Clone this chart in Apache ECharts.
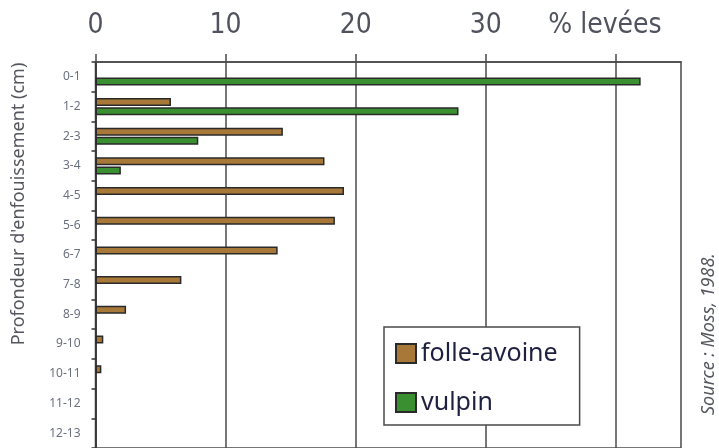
<!DOCTYPE html>
<html>
<head>
<meta charset="utf-8">
<script src="https://cdn.jsdelivr.net/npm/echarts@6/dist/echarts.min.js"></script>
<style>
  html, body { margin: 0; padding: 0; background: #fff; }
  #chart { width: 719px; height: 448px; }
</style>
</head>
<body>
<div id="chart"></div>
<script>
// profondeur d'enfouissement (cm)
const depths = ['0-1', '1-2', '2-3', '3-4', '4-5', '5-6', '6-7', '7-8', '8-9', '9-10', '10-11', '11-12', '12-13']
// % levées
const folleAvoine = [null, 5.8, 14.4, 17.6, 19.1, 18.4, 14.0, 6.6, 2.35, 0.6, 0.45, null, null]
const vulpin = [41.9, 27.9, 7.9, 1.95, null, null, null, null, null, null, null, null, null]
const xTicks = [0, 10, 20, 30, 40]

let myChart = echarts.init(document.getElementById('chart'))
let options = {
  animation: false,
  grid: {
    left: 95.5,
    top: 62,
    width: 585.5,
    height: 390,
    show: true,
    borderColor: '#4a4a4a',
    borderWidth: 1.5
  },
  xAxis: {
    type: 'value',
    position: 'top',
    min: 0,
    max: 45,
    interval: 10,
    axisLine: { show: true, lineStyle: { color: '#4a4a4a', width: 1.5 } },
    axisTick: {
      show: true,
      length: 8,
      customValues: xTicks,
      lineStyle: { color: '#4a4a4a', width: 1.5 }
    },
    axisLabel: {
      customValues: xTicks,
      margin: 22,
      fontFamily: "'Liberation Sans Narrow', 'DejaVu Sans Condensed', 'Open Sans', sans-serif",
      fontSize: 28,
      color: '#50535e',
      formatter: v => (v === 40 ? '{u|% levées}' : String(v)),
      rich: {
        u: {
          fontFamily: "'Liberation Sans Narrow', 'DejaVu Sans Condensed', 'Open Sans', sans-serif",
          fontSize: 28,
          color: '#50535e',
          padding: [0, 22, 0, 0]
        }
      }
    },
    splitLine: { show: true, lineStyle: { color: '#4a4a4a', width: 1.5 } }
  },
  yAxis: {
    type: 'category',
    inverse: true,
    data: depths,
    axisLine: { show: true, lineStyle: { color: '#333', width: 1.5 } },
    axisTick: { show: true, length: 4, lineStyle: { color: '#333', width: 1.5 } },
    axisLabel: {
      margin: 15,
      fontFamily: 'Noto Sans',
      fontSize: 12,
      color: '#6b7080'
    }
  },
  legend: {
    left: 384,
    top: 327,
    orient: 'vertical',
    itemWidth: 20,
    itemHeight: 19,
    itemGap: 24,
    padding: [14, 22, 10, 11],
    backgroundColor: '#fff',
    borderColor: '#4a4a4a',
    borderWidth: 1.5,
    borderRadius: 0,
    icon: 'rect',
    textStyle: {
      fontFamily: 'Noto Sans',
      fontSize: 25,
      color: '#1e2040'
    },
    data: ['folle-avoine', 'vulpin']
  },
  graphic: [
    {
      type: 'text',
      x: 19,
      y: 204,
      rotation: Math.PI / 2,
      style: {
        text: "Profondeur d'enfouissement (cm)",
        fontFamily: 'Noto Sans',
        fontSize: 18,
        fill: '#55575f',
        align: 'center',
        verticalAlign: 'middle'
      }
    },
    {
      type: 'text',
      x: 709,
      y: 334,
      rotation: Math.PI / 2,
      style: {
        text: 'Source : Moss, 1988.',
        fontFamily: 'Noto Sans',
        fontStyle: 'italic',
        fontSize: 18,
        fill: '#55575f',
        align: 'center',
        verticalAlign: 'middle'
      }
    }
  ],
  series: [
    {
      name: 'folle-avoine',
      type: 'bar',
      data: folleAvoine,
      barWidth: 8,
      barGap: '15%',
      itemStyle: { color: '#a87838', borderColor: '#2a2a2a', borderWidth: 1.5 }
    },
    {
      name: 'vulpin',
      type: 'bar',
      data: vulpin,
      barWidth: 8,
      barGap: '15%',
      itemStyle: { color: '#3a9030', borderColor: '#2a2a2a', borderWidth: 1.5 }
    }
  ]
}
myChart.setOption(options)
</script>
</body>
</html>
